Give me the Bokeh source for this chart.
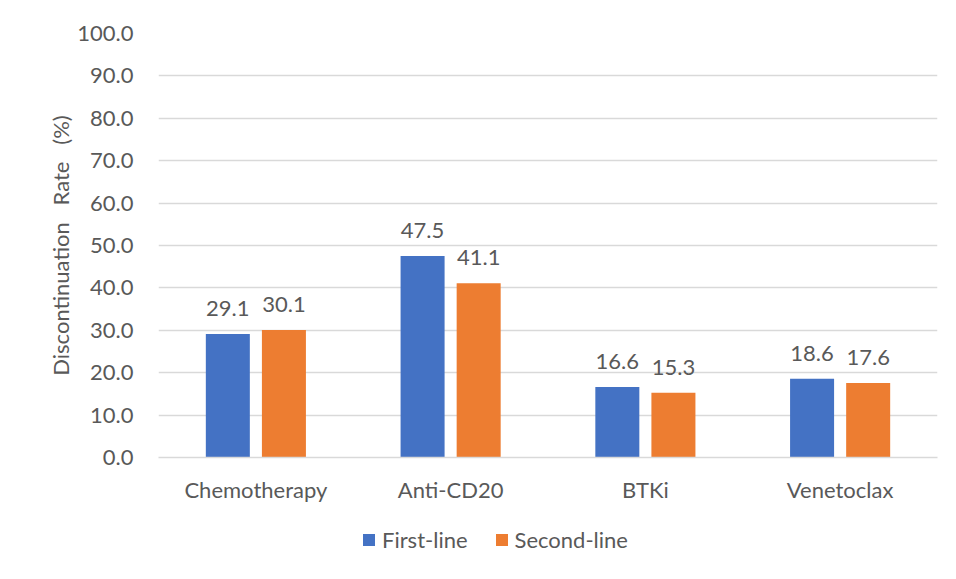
from bokeh.plotting import figure
from bokeh.layouts import column
from bokeh.models import ColumnDataSource, LabelSet, Legend, LegendItem, FactorRange, Range1d, FixedTicker, CustomJSTickFormatter
from bokeh.core.properties import value
from bokeh.transform import dodge
from bokeh.embed import file_html
from bokeh.resources import INLINE

categories = ["Chemotherapy", "Anti-CD20", "BTKi", "Venetoclax"]
first_line = [29.1, 47.5, 16.6, 18.6]
second_line = [30.1, 41.1, 15.3, 17.6]
series_names = ["First-line", "Second-line"]
y_ticks = [0, 10, 20, 30, 40, 50, 60, 70, 80, 90, 100]

BLUE = "#4472C4"
ORANGE = "#ED7D31"
TEXT = "#595959"
GRID = "#D9D9D9"
FONT = "Lato"
FS = "22px"

src = ColumnDataSource(dict(
    cat=categories,
    first=first_line,
    second=second_line,
    first_lbl=[f"{v:.1f}" for v in first_line],
    second_lbl=[f"{v:.1f}" for v in second_line],
))

p = figure(width=948, height=510, x_range=FactorRange(*categories, range_padding=0),
           y_range=Range1d(0, 100), output_backend="svg", toolbar_location=None,
           min_border_left=158, min_border_right=11, min_border_top=33, min_border_bottom=53)

r1 = p.vbar(x=dodge("cat", -0.144, range=p.x_range), top="first", width=0.226, source=src,
            fill_color=BLUE, line_color=None)
r2 = p.vbar(x=dodge("cat", 0.144, range=p.x_range), top="second", width=0.226, source=src,
            fill_color=ORANGE, line_color=None)

for col, off, ycol in (("first_lbl", -0.144, "first"), ("second_lbl", 0.144, "second")):
    lbl = LabelSet(x=dodge("cat", off, range=p.x_range), y=ycol, text=col, source=src,
                   text_align="center", text_baseline="alphabetic", y_offset=18,
                   text_font=value(FONT), text_font_size=FS, text_color=TEXT)
    p.add_layout(lbl)

p.outline_line_color = None
p.xgrid.grid_line_color = None
p.ygrid.grid_line_color = GRID
p.ygrid.grid_line_width = 1.5
p.ygrid.ticker = FixedTicker(ticks=y_ticks)

p.yaxis.ticker = FixedTicker(ticks=y_ticks)
p.yaxis.formatter = CustomJSTickFormatter(code="return tick.toFixed(1);")
p.yaxis.axis_line_color = None
p.yaxis.major_tick_line_color = None
p.yaxis.minor_tick_line_color = None
p.yaxis.major_label_standoff = 19
p.yaxis.major_label_text_font = FONT
p.yaxis.major_label_text_font_size = FS
p.yaxis.major_label_text_color = TEXT
p.yaxis.axis_label = "Discontinuation\u00a0\u00a0 Rate\u00a0\u00a0 (%)"
p.yaxis.axis_label_text_font = FONT
p.yaxis.axis_label_text_font_size = FS
p.yaxis.axis_label_text_font_style = "normal"
p.yaxis.axis_label_text_color = TEXT
p.yaxis.axis_label_standoff = 0

p.xaxis.axis_line_color = GRID
p.xaxis.axis_line_width = 1.5
p.xaxis.major_tick_line_color = None
p.xaxis.minor_tick_line_color = None
p.xaxis.major_label_standoff = 12
p.xaxis.major_label_text_font = FONT
p.xaxis.major_label_text_font_size = FS
p.xaxis.major_label_text_color = TEXT

# legend in its own strip below the chart (its frame is aligned with the chart's frame)
lf = figure(width=948, height=61, output_backend="svg", toolbar_location=None,
            x_range=Range1d(0, 1), y_range=Range1d(0, 1),
            min_border=0, min_border_left=0, min_border_right=0, min_border_top=0, min_border_bottom=0)
lf.axis.visible = False
lf.grid.visible = False
lf.outline_line_color = None
hidden = ColumnDataSource(dict(x=[-5.0], top=[-5.0]))
lr1 = lf.vbar(x="x", top="top", width=0.1, source=hidden, fill_color=BLUE, line_color=None)
lr2 = lf.vbar(x="x", top="top", width=0.1, source=hidden, fill_color=ORANGE, line_color=None)
legend = Legend(items=[LegendItem(label=series_names[0], renderers=[lr1]),
                       LegendItem(label=series_names[1], renderers=[lr2])],
                orientation="horizontal", location=(203, 18),
                label_text_font=FONT, label_text_font_size=FS, label_text_color=TEXT,
                glyph_width=15, glyph_height=15, spacing=26, label_standoff=6,
                border_line_color=None, background_fill_alpha=0, margin=0, padding=0)
lf.add_layout(legend)

layout = column(p, lf, spacing=0)
open("out.html", "w").write(file_html(layout, INLINE))
